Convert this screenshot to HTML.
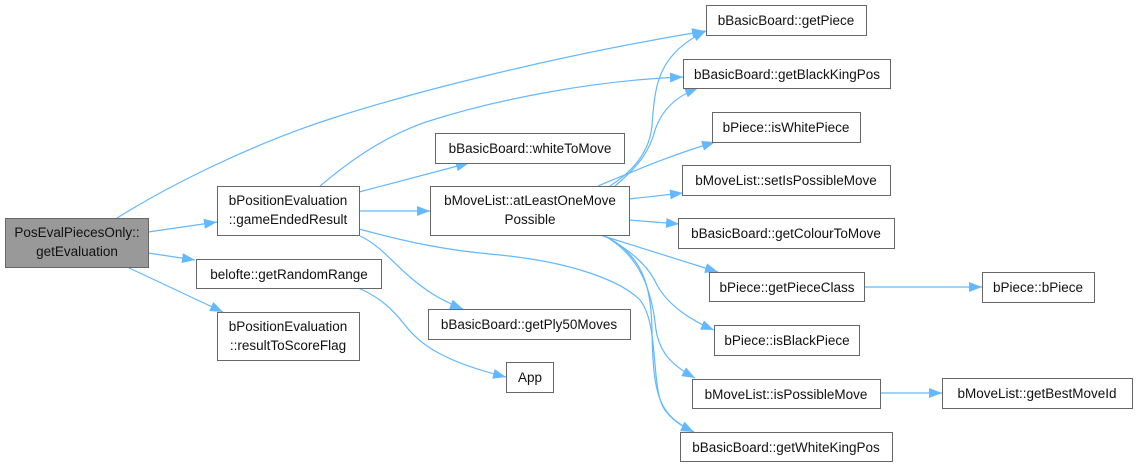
<!DOCTYPE html>
<html><head><meta charset="utf-8"><style>
html,body{margin:0;padding:0;background:#fff;}
svg{display:block;}
text{font-family:"Liberation Sans",Arial,sans-serif;font-size:13.5px;fill:#111;text-anchor:middle;}
.b{fill:#fff;stroke:#666;stroke-width:1;}
.e{fill:none;stroke:#63b8ff;stroke-width:1.2;}
</style></head><body>
<svg width="1138" height="467" viewBox="0 0 1138 467" xmlns="http://www.w3.org/2000/svg">
<defs>
<marker id="a" markerUnits="userSpaceOnUse" markerWidth="14" markerHeight="11" refX="13" refY="5" orient="auto">
<path d="M0,0 L13,5 L0,10 z" fill="#63b8ff"/>
</marker>
</defs>

<!-- edges -->
<path class="e" marker-end="url(#a)" d="M117,218 C170,185 250,145 330,119 C420,90 560,55 705,31"/>
<path class="e" marker-end="url(#a)" d="M148,232 L217,222"/>
<path class="e" marker-end="url(#a)" d="M148,253 L195,260"/>
<path class="e" marker-end="url(#a)" d="M127,267 L223,312"/>
<path class="e" marker-end="url(#a)" d="M320,186 C345,165 380,138 426,122 C500,98 600,80 683,77"/>
<path class="e" marker-end="url(#a)" d="M359,192 L469,163"/>
<path class="e" marker-end="url(#a)" d="M359,211 L430,211"/>
<path class="e" marker-end="url(#a)" d="M359,229 C400,240 440,250 500,255 C570,262 620,280 640,300 C660,325 650,390 665,410 C672,420 683,427 694,432"/>
<path class="e" marker-end="url(#a)" d="M360,236 C380,245 395,265 410,277 C425,290 440,300 463,309"/>
<path class="e" marker-end="url(#a)" d="M358,288 C380,297 393,310 405,325 C420,345 445,362 506,377"/>
<path class="e" marker-end="url(#a)" d="M610,186 C635,170 650,150 652,125 C655,90 655,55 706,31"/>
<path class="e" marker-end="url(#a)" d="M615,186 C640,165 650,150 655,130 C662,110 675,97 698,88"/>
<path class="e" marker-end="url(#a)" d="M598,186 C630,173 665,157 715,142"/>
<path class="e" marker-end="url(#a)" d="M629,199 L683,193"/>
<path class="e" marker-end="url(#a)" d="M629,220 L679,224"/>
<path class="e" marker-end="url(#a)" d="M600,235 L718,272"/>
<path class="e" marker-end="url(#a)" d="M603,235 C630,250 648,265 657,285 C668,305 690,320 714,330"/>
<path class="e" marker-end="url(#a)" d="M603,235 C640,255 652,290 656,330 C660,355 675,367 695,378"/>
<path class="e" marker-end="url(#a)" d="M603,235 C645,255 651,290 652,330 C653,400 660,415 694,432"/>
<path class="e" marker-end="url(#a)" d="M864,287 L982,287"/>
<path class="e" marker-end="url(#a)" d="M880,393 L942,393"/>

<!-- nodes -->
<rect x="5.5" y="218.5" width="143" height="49" fill="#999" stroke="#666"/>
<text x="77" y="237">PosEvalPiecesOnly::</text>
<text x="77" y="256">getEvaluation</text>

<rect class="b" x="217.5" y="186.5" width="142" height="49"/>
<text x="288" y="205">bPositionEvaluation</text>
<text x="288" y="224">::gameEndedResult</text>

<rect class="b" x="196.5" y="259.5" width="185" height="29"/>
<text x="289" y="279">belofte::getRandomRange</text>

<rect class="b" x="217.5" y="312.5" width="142" height="48"/>
<text x="288" y="331">bPositionEvaluation</text>
<text x="288" y="350">::resultToScoreFlag</text>

<rect class="b" x="706.5" y="5.5" width="160" height="30"/>
<text x="786" y="25">bBasicBoard::getPiece</text>

<rect class="b" x="683.5" y="59.5" width="207" height="29"/>
<text x="787" y="79">bBasicBoard::getBlackKingPos</text>

<rect class="b" x="712.5" y="112.5" width="148" height="30"/>
<text x="786" y="132">bPiece::isWhitePiece</text>

<rect class="b" x="435.5" y="133.5" width="189" height="30"/>
<text x="530" y="153">bBasicBoard::whiteToMove</text>

<rect class="b" x="682.5" y="165.5" width="208" height="30"/>
<text x="786" y="185">bMoveList::setIsPossibleMove</text>

<rect class="b" x="430.5" y="186.5" width="199" height="49"/>
<text x="530" y="205">bMoveList::atLeastOneMove</text>
<text x="530" y="224">Possible</text>

<rect class="b" x="678.5" y="218.5" width="216" height="30"/>
<text x="786" y="238">bBasicBoard::getColourToMove</text>

<rect class="b" x="709.5" y="272.5" width="155" height="29"/>
<text x="787" y="292">bPiece::getPieceClass</text>

<rect class="b" x="428.5" y="309.5" width="202" height="30"/>
<text x="529" y="329">bBasicBoard::getPly50Moves</text>

<rect class="b" x="714.5" y="325.5" width="145" height="30"/>
<text x="787" y="345">bPiece::isBlackPiece</text>

<rect class="b" x="506.5" y="362.5" width="47" height="30"/>
<text x="530" y="382">App</text>

<rect class="b" x="692.5" y="379.5" width="188" height="29"/>
<text x="786" y="399">bMoveList::isPossibleMove</text>

<rect class="b" x="680.5" y="432.5" width="212" height="29"/>
<text x="786" y="452">bBasicBoard::getWhiteKingPos</text>

<rect class="b" x="982.5" y="272.5" width="112" height="30"/>
<text x="1038" y="292">bPiece::bPiece</text>

<rect class="b" x="942.5" y="378.5" width="190" height="30"/>
<text x="1037" y="398">bMoveList::getBestMoveId</text>
</svg>
</body></html>
